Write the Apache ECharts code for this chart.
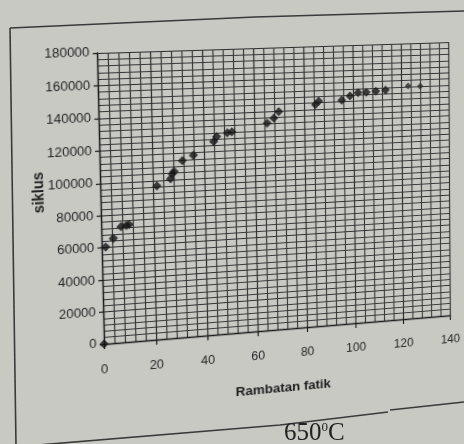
<!DOCTYPE html>
<html>
<head>
<meta charset="utf-8">
<script src="https://cdn.jsdelivr.net/npm/echarts@6/dist/echarts.min.js"></script>
<style>
  html, body { margin: 0; padding: 0; background: #c9c9c4; overflow: hidden; }
  #paper { position: absolute; left: 0; top: 0; width: 464px; height: 444px; }
  #chart { position: absolute; left: 0; top: 0; width: 464px; height: 444px; transform-origin: 0 0; }
</style>
</head>
<body>
<div id="paper"></div>
<div id="chart"></div>
<script>
// ---- data ----
const crackX = [0, 1.5, 4.5, 7.5, 9.5, 10.5, 21.5, 26.8, 27.5, 28.2, 31.5, 35.8, 43.8, 45, 49.2, 51,
                65, 67.7, 69.7, 84.5, 85.8, 95.2, 98.6, 101.9, 105.3, 109.3, 113.3];
const cycles = [0, 60500, 65500, 72500, 73000, 73500, 96500, 100500, 103500, 105000, 111500, 114500, 122500, 125500, 127500, 128000,
                132500, 135500, 139500, 143000, 145000, 145000, 147500, 149500, 149500, 150000, 150500];
const tailX = [122.7, 127.8];
const tailCycles = [152500, 152000];
const xTickLabels = [0, 20, 40, 60, 80, 100, 120, 140];
const yTickLabels = [0, 20000, 40000, 60000, 80000, 100000, 120000, 140000, 160000, 180000];
const xTitle = 'Rambatan fatik';
const yTitle = 'siklus';
const caption = '650';

// ---- photo perspective: plot rectangle -> photographed quadrilateral ----
const PRE = { left: 100, top: 47, width: 354, height: 283 };
const QUAD = [[97, 53], [452, 42], [453.5, 315], [104, 344]]; // TL, TR, BR, BL

function homography(r, q) {
  const [x0, y0] = q[0], [x1, y1] = q[1], [x2, y2] = q[2], [x3, y3] = q[3];
  const sx = x0 - x1 + x2 - x3, sy = y0 - y1 + y2 - y3;
  const dx1 = x1 - x2, dx2 = x3 - x2, dy1 = y1 - y2, dy2 = y3 - y2;
  const den = dx1 * dy2 - dx2 * dy1;
  const g = (sx * dy2 - dx2 * sy) / den;
  const h = (dx1 * sy - sx * dy1) / den;
  const a = x1 - x0 + g * x1, b = x3 - x0 + h * x3, c = x0;
  const d = y1 - y0 + g * y1, e = y3 - y0 + h * y3, f = y0;
  const L = r.left, T = r.top, W = r.width, H = r.height;
  const m00 = a / W, m01 = b / H, m02 = c - a * L / W - b * T / H;
  const m10 = d / W, m11 = e / H, m12 = f - d * L / W - e * T / H;
  const m20 = g / W, m21 = h / H, m22 = 1 - g * L / W - h * T / H;
  return 'matrix3d(' + [m00, m10, 0, m20, m01, m11, 0, m21, 0, 0, 1, 0, m02, m12, 0, m22].join(',') + ')';
}
document.getElementById('chart').style.transform = homography(PRE, QUAD);

const sans = '"Liberation Sans", Arial, sans-serif';

// ---- paper: frame lines and caption ----
const paper = echarts.init(document.getElementById('paper'));
paper.setOption({
  backgroundColor: '#c9c9c4',
  graphic: [
    { type: 'polyline', shape: { points: [[10, 28], [255, 17], [360, 14], [464, 11]] },
      style: { stroke: '#3a3a3a', lineWidth: 1.6, fill: null } },
    { type: 'line', shape: { x1: 10, y1: 28, x2: 16, y2: 446 },
      style: { stroke: '#3a3a3a', lineWidth: 1.6 } },
    { type: 'polyline', shape: { points: [[14, 447], [280, 425], [388, 412]] },
      style: { stroke: '#3a3a3a', lineWidth: 1.6, fill: null } },
    { type: 'line', shape: { x1: 390, y1: 410, x2: 464, y2: 402 },
      style: { stroke: '#3a3a3a', lineWidth: 1.6 } },
    { type: 'text', left: 284, top: 421,
      style: {
        text: '{n|' + caption + '}{s|0}{n|C}',
        rich: {
          n: { fontFamily: '"Liberation Serif", serif', fontSize: 25, fill: '#222' },
          s: { fontFamily: '"Liberation Serif", serif', fontSize: 13, fill: '#222', verticalAlign: 'top', padding: [0, 0, 12, 0] }
        }
      } }
  ]
});

// ---- chart ----
const chart = echarts.init(document.getElementById('chart'));
const gridLine = { show: true, lineStyle: { color: '#2e2e2e', width: 1.2 } };
const minorLine = { show: true, lineStyle: { color: '#383838', width: 1.15 } };
chart.setOption({
  backgroundColor: 'transparent',
  animation: false,
  grid: { left: PRE.left, top: PRE.top, width: PRE.width, height: PRE.height, containLabel: false },
  xAxis: {
    type: 'value', min: xTickLabels[0], max: xTickLabels[xTickLabels.length - 1], interval: 20,
    axisLine: { show: true, onZero: false, lineStyle: { color: '#1a1a1a', width: 1.3 } },
    axisTick: { show: true, length: 5, lineStyle: { color: '#1a1a1a', width: 1.2 } },
    minorTick: { show: false, splitNumber: 5 },
    splitLine: gridLine,
    minorSplitLine: minorLine,
    axisLabel: { margin: 19, fontSize: 12.5, color: '#262626', fontFamily: sans },
    name: xTitle, nameLocation: 'middle', nameGap: 53, nameMoveOverlap: false,
    nameTextStyle: { fontSize: 13.5, fontWeight: 'bold', color: '#1e1e1e', fontFamily: sans }
  },
  yAxis: {
    type: 'value', min: yTickLabels[0], max: yTickLabels[yTickLabels.length - 1], interval: 20000,
    axisLine: { show: true, onZero: false, lineStyle: { color: '#1a1a1a', width: 1.3 } },
    axisTick: { show: true, length: 4, lineStyle: { color: '#1a1a1a', width: 1.2 } },
    minorTick: { show: false, splitNumber: 5 },
    splitLine: gridLine,
    minorSplitLine: minorLine,
    axisLabel: { margin: 7, fontSize: 12.5, color: '#262626', fontFamily: sans, formatter: v => String(v) },
    name: yTitle, nameLocation: 'middle', nameRotate: 90, nameGap: 50, nameMoveOverlap: false,
    nameTextStyle: { fontSize: 14, fontWeight: 'bold', color: '#1e1e1e', fontFamily: sans, padding: [0, 0, 0, 20] }
  },
  series: [
    {
      type: 'scatter', symbol: 'diamond', symbolSize: 9, clip: false,
      itemStyle: { color: '#141414' },
      data: crackX.map((x, i) => [x, cycles[i]])
    },
    {
      type: 'scatter', symbol: 'diamond', symbolSize: 7, clip: false,
      itemStyle: { color: '#2a2a2a' },
      data: tailX.map((x, i) => [x, tailCycles[i]])
    }
  ]
});
</script>
</body>
</html>
